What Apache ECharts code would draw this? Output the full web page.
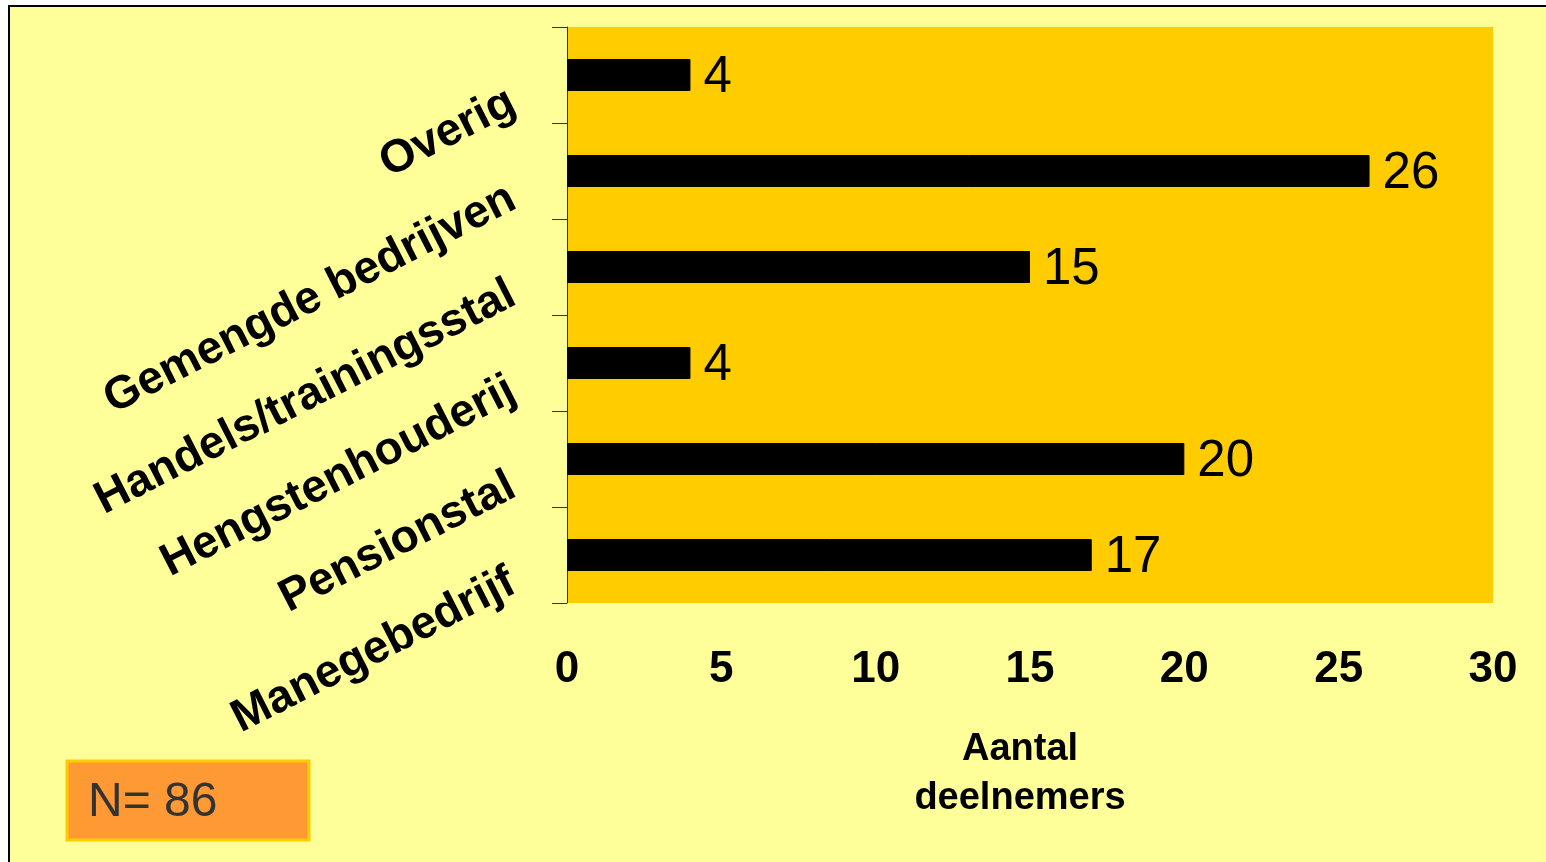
<!DOCTYPE html>
<html>
<head>
<meta charset="utf-8">
<script src="https://cdn.jsdelivr.net/npm/echarts@6/dist/echarts.min.js"></script>
<style>
html,body{margin:0;padding:0;background:#ffffff;}
#chart{width:1546px;height:862px;}
</style>
</head>
<body>
<div id="chart"></div>
<script>
var categories = ['Manegebedrijf', 'Pensionstal', 'Hengstenhouderij', 'Handels/trainingsstal', 'Gemengde bedrijven', 'Overig'];
var values = [17, 20, 4, 15, 26, 4];
var xTicks = [0, 5, 10, 15, 20, 25, 30];
var axisTitle = 'Aantal\ndeelnemers';
var noteText = 'N= 86';

var FONT = '"Liberation Sans", Arial, Helvetica, sans-serif';
var chart = echarts.init(document.getElementById('chart'), null, {renderer: 'canvas'});
var option = {
  animation: false,
  backgroundColor: '#ffffff',
  graphic: [
    {type: 'rect', z: -10, shape: {x: 9, y: 6, width: 1700, height: 1000},
     style: {fill: '#FFFF99', stroke: '#000000', lineWidth: 2}},
    {type: 'rect', z: 10, shape: {x: 67, y: 761, width: 242, height: 79},
     style: {fill: '#FF9933', stroke: '#FFCC00', lineWidth: 3}},
    {type: 'text', z: 11, x: 88, y: 803,
     style: {text: noteText, fill: '#333333', font: 'normal 48px ' + FONT, verticalAlign: 'middle'}}
  ],
  grid: {left: 567, right: 53, top: 27, bottom: 259, show: true,
         backgroundColor: '#FFCC00', borderWidth: 0, containLabel: false},
  xAxis: {
    type: 'value', min: xTicks[0], max: xTicks[xTicks.length - 1], interval: 5,
    axisLine: {show: false}, axisTick: {show: false}, splitLine: {show: false},
    axisLabel: {color: '#000000', fontFamily: FONT, fontWeight: 'bold', fontSize: 44, margin: 45},
    name: axisTitle, nameLocation: 'middle', nameGap: 122,
    nameTextStyle: {color: '#000000', fontFamily: FONT, fontWeight: 'bold', fontSize: 38, lineHeight: 49,
                    padding: [0, 20, 0, 0]}
  },
  yAxis: {
    type: 'category', data: categories,
    axisLine: {show: true, lineStyle: {color: '#333333', width: 1}},
    axisTick: {show: true, inside: false, length: 15, alignWithLabel: false, lineStyle: {color: '#333333', width: 1}},
    splitLine: {show: false},
    axisLabel: {interval: 0, rotate: 27, color: '#000000', fontFamily: FONT, fontWeight: 'bold', fontSize: 46,
                margin: 67, verticalAlign: 'top', lineHeight: 56}
  },
  series: [{
    type: 'bar', data: values, barWidth: 32,
    itemStyle: {color: '#000000', borderColor: '#000000', borderWidth: 1},
    label: {show: true, position: 'right', distance: 13, offset: [0, 3], color: '#000000', fontFamily: FONT, fontSize: 51}
  }]
};
chart.setOption(option);
</script>
</body>
</html>
